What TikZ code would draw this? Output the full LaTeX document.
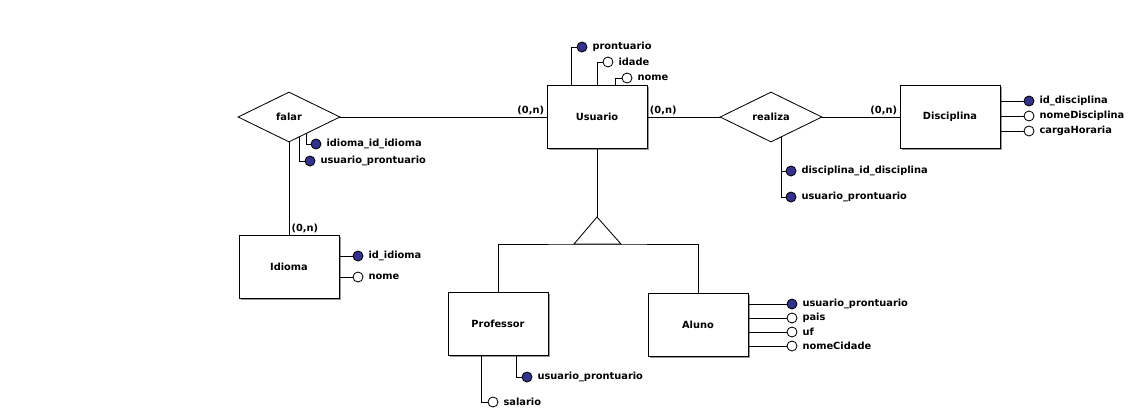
\documentclass[tikz,border=0pt]{standalone}
\usepackage{fontspec}
\setmainfont{DejaVu Sans}
\usetikzlibrary{shapes.geometric,calc,shadows}
\definecolor{chaveazul}{RGB}{50,50,140}

\begin{document}
\begin{tikzpicture}[x=0.025cm, y=-0.025cm, line width=0.6pt,
    every node/.style={font=\bfseries\fontsize{7}{8}\selectfont},
    entidade/.style={draw, fill=white, minimum width=2.5cm, minimum height=1.575cm,
        drop shadow={shadow xshift=1.4pt, shadow yshift=-1.4pt, fill=gray!80, opacity=1}},
    relacao/.style={draw, diamond, fill=white, minimum width=2.55cm, minimum height=1.25cm, inner sep=0pt},
    atrib/.style={draw, circle, fill=white, minimum size=0.25cm, inner sep=0pt},
    chave/.style={atrib, fill=chaveazul},
    card/.style={inner sep=1.5pt},
]
    \useasboundingbox (0,0) rectangle (1135,416);
    % Entidades
    \node[entidade] (usuario) at (597,117) {Usuario};
    \node[entidade] (disciplina) at (950,117) {Disciplina};
    \node[entidade] (idioma) at (289,267) {Idioma};
    \node[entidade] (professor) at (498,324) {Professor};
    \node[entidade] (aluno) at (698,325) {Aluno};
    % Relacionamentos
    \node[relacao] (falar) at (289,117) {falar};
    \node[relacao] (realiza) at (771,117) {realiza};
    % Ligacoes e cardinalidades
    \draw (falar) -- (usuario) node[card, pos=1, above left] {(0,n)};
    \draw (usuario) -- (realiza) node[card, pos=0, above right] {(0,n)};
    \draw (realiza) -- (disciplina) node[card, pos=1, above left] {(0,n)};
    \draw (falar) -- (idioma) node[card, pos=1, above right] {(0,n)};
    % Especializacao de Usuario
    \coordinate (isatopo) at (597,217);
    \coordinate (isabase) at (597,244);
    \draw (usuario) -- (isatopo);
    \draw (isatopo) -- ++(24,27) -- ++(-47,0) -- cycle;
    \draw (professor.north) |- (isabase) -| (aluno.north);
    % Atributos de Usuario
    \node[chave, label=right:prontuario] (u1) at (582,47) {};
    \node[atrib, label=right:idade] (u2) at (608,62) {};
    \node[atrib, label=right:nome] (u3) at (627,78) {};
    \foreach \a/\dx in {u1/25, u2/51, u3/69}
        \draw (\a) -| ($(usuario.north west)+(\dx,0)$);
    % Atributos de Disciplina
    \foreach \txt/\y/\tipo [count=\k] in {id\_disciplina/101/chave, nomeDisciplina/116/atrib, cargaHoraria/131/atrib} {
        \node[\tipo, label=right:\txt] (d\k) at (1029,\y) {};
        \draw (d\k) -- (disciplina.east |- d\k);
    }
    % Atributos de Idioma
    \foreach \txt/\y/\tipo [count=\k] in {id\_idioma/256/chave, nome/277/atrib} {
        \node[\tipo, label=right:\txt] (i\k) at (358,\y) {};
        \draw (i\k) -- (idioma.east |- i\k);
    }
    % Atributos de Aluno
    \foreach \txt/\y/\tipo [count=\k] in {usuario\_prontuario/304/chave, pais/318/atrib, uf/332/atrib, nomeCidade/346/atrib} {
        \node[\tipo, label=right:\txt] (a\k) at (792,\y) {};
        \draw (a\k) -- (aluno.east |- a\k);
    }
    % Atributos de Professor
    \node[chave, label=right:usuario\_prontuario] (p1) at (527,377) {};
    \node[atrib, label=right:salario] (p2) at (493,402) {};
    \draw (p1) -| ($(professor.south west)+(69,0)$);
    \draw (p2) -| ($(professor.south west)+(34,0)$);
    % Atributos de falar
    \node[chave, label=right:idioma\_id\_idioma] (f1) at (316,144) {};
    \node[chave, label=right:usuario\_prontuario] (f2) at (310,161) {};
    \draw (f1) -| ($(falar.south)!0.33!(falar.east)$);
    \draw (f2) -| ($(falar.south)!0.2!(falar.east)$);
    % Atributos de realiza
    \node[chave, label=right:disciplina\_id\_disciplina] (r1) at (791,171) {};
    \node[chave, label=right:usuario\_prontuario] (r2) at (791,197) {};
    \draw (r1) -| ($(realiza.south)!0.2!(realiza.east)$);
    \draw (r2) -| ($(realiza.south)!0.2!(realiza.east)$);
\end{tikzpicture}
\end{document}
